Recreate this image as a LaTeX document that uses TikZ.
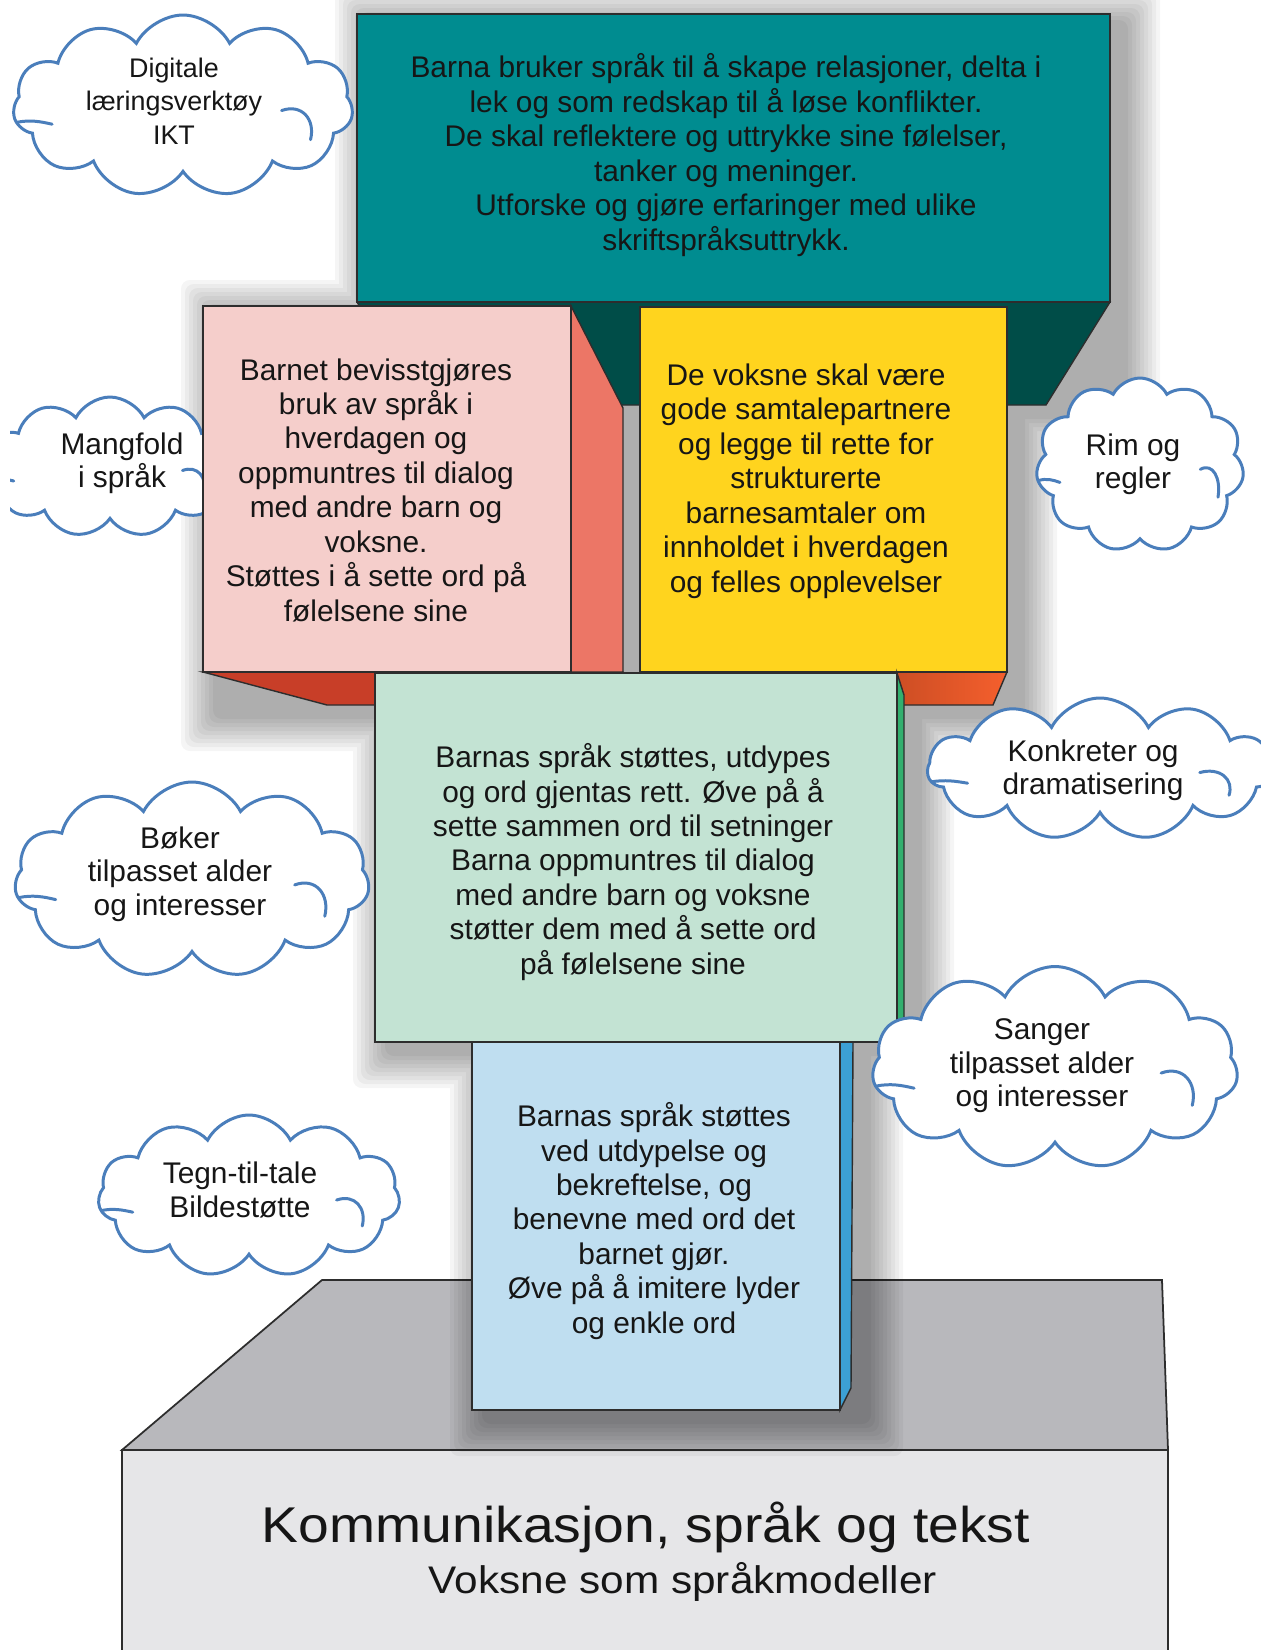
\documentclass[tikz,border=0pt]{standalone}
\usepackage{fontspec}
\setmainfont{Liberation Sans}
\newfontfamily\widefont[FakeStretch=1.1]{Liberation Sans}
\usetikzlibrary{shapes.symbols}
\definecolor{tealF}{RGB}{0,140,144}
\definecolor{tealD}{RGB}{0,77,72}
\definecolor{pinkF}{RGB}{245,206,203}
\definecolor{salmonS}{RGB}{236,118,102}
\definecolor{redU}{RGB}{200,62,40}
\definecolor{yellowF}{RGB}{255,212,30}
\definecolor{orangeL}{RGB}{205,78,36}
\definecolor{orangeR}{RGB}{245,95,45}
\definecolor{mintF}{RGB}{195,227,211}
\definecolor{greenS}{RGB}{50,175,110}
\definecolor{blueF}{RGB}{191,222,240}
\definecolor{blueS}{RGB}{60,160,212}
\definecolor{baseTop}{RGB}{184,184,188}
\definecolor{baseFront}{RGB}{230,230,232}
\definecolor{edge}{RGB}{45,45,45}
\definecolor{txt}{RGB}{22,22,22}
\definecolor{cloudblue}{RGB}{74,126,187}
\newcommand{\cloudarcs}[4]{%
  \draw[cloudline] ({#1-0.98*#3},{#2+0.18*#4}) .. controls ({#1-0.9*#3},{#2+0.15*#4}) and ({#1-0.84*#3},{#2+0.17*#4}) .. ({#1-0.77*#3},{#2+0.20*#4});
  \draw[cloudline] ({#1+0.58*#3},{#2+0.05*#4}) .. controls ({#1+0.70*#3},{#2-0.03*#4}) and ({#1+0.78*#3},{#2+0.15*#4}) .. ({#1+0.75*#3},{#2+0.37*#4});
}
\begin{document}
\begin{tikzpicture}[x=0.02cm,y=-0.02cm,
  faceline/.style={draw=edge, line width=0.8pt},
  boxtext/.style={align=center, font=\fontsize{17}{19.6}\selectfont, text=txt, inner sep=0pt},
  cloudsty/.style={cloud, cloud puffs=11, cloud puff arc=125, cloud ignores aspect, draw=cloudblue, line width=1.7pt, fill=white, inner sep=0pt},
  cloudtext/.style={align=center, font=\fontsize{17}{19}\selectfont, text=txt, inner sep=0pt},
  cloudline/.style={draw=cloudblue, line width=1.7pt, line cap=round}]
\useasboundingbox (0,0) rectangle (1261,1650);
\clip (0,0) rectangle (1261,1650);
\fill[white] (0,0) rectangle (1261,1650);

% base block
\filldraw[fill=baseFront, faceline, line width=1pt] (122,1450) -- (1168,1450) -- (1168,1680) -- (122,1680) -- cycle;
\filldraw[fill=baseTop, faceline, line width=1pt] (322,1280) -- (1162,1280) -- (1168,1450) -- (122,1450) -- cycle;

% soft shadows
\foreach \k in {1,...,9}{
  \fill[black, opacity=0.04, rounded corners=5pt]
    ({371-4*\k},{24-4*\k}) rectangle ({1124+4*\k},{415+4*\k})
    ({217-4*\k},{316-4*\k}) rectangle ({637+4*\k},{715+4*\k})
    ({654-4*\k},{317-4*\k}) rectangle ({1021+4*\k},{715+4*\k})
    ({389-4*\k},{683-4*\k}) rectangle ({918+4*\k},{1052+4*\k})
    ({486-4*\k},{1052-4*\k}) rectangle ({867+4*\k},{1420+4*\k});
}

% cloud behind pink block
\begin{scope}
  \clip (10,0) rectangle (1261,1650);
  \node[cloudsty, minimum width=5cm, minimum height=2.8cm] (c2) at (110,467) {};
  \cloudarcs{110}{467}{125}{70}
\end{scope}
\node[cloudtext] (t2) at (122,463) {Mangfold\\i språk};

% top teal block
\filldraw[fill=tealD, faceline] (357,302) -- (1110,302) -- (1046,405) -- (420,405) -- cycle;
\filldraw[fill=tealF, faceline] (357,14) rectangle (1110,302);

% pink block
\filldraw[fill=redU, faceline] (203,672) -- (623,672) -- (623,705) -- (327,705) -- cycle;
\filldraw[fill=salmonS, faceline] (571,306) -- (623,408) -- (623,672) -- (571,672) -- cycle;
\filldraw[fill=pinkF, faceline] (203,306) rectangle (571,672);

% yellow block
\shade[left color=orangeL, right color=orangeR] (897,672) -- (1007,672) -- (993,705) -- (897,705) -- cycle;
\draw[faceline] (897,672) -- (1007,672) -- (993,705) -- (897,705);
\filldraw[fill=yellowF, faceline] (640,307) rectangle (1007,672);

% blue block
\filldraw[fill=blueS, faceline] (840,1042) -- (853,1042) -- (851,1388) -- (840,1410) -- cycle;
\filldraw[fill=blueF, faceline] (472,1042) rectangle (840,1410);

% mint block
\filldraw[fill=greenS, faceline] (897,673) -- (904,695) -- (904,1030) -- (897,1042) -- cycle;
\filldraw[fill=mintF, faceline] (375,673) rectangle (897,1042);

% box texts
\node[boxtext] (ttop) at (726,155) {Barna bruker språk til å skape relasjoner, delta i\\lek og som redskap til å løse konflikter.\\De skal reflektere og uttrykke sine følelser,\\tanker og meninger.\\Utforske og gjøre erfaringer med ulike\\skriftspråksuttrykk.};
\node[boxtext] (tpink) at (376,490) {Barnet bevisstgjøres\\bruk av språk i\\hverdagen og\\oppmuntres til dialog\\med andre barn og\\voksne.\\Støttes i å sette ord på\\følelsene sine};
\node[boxtext] (tyellow) at (806,481) {De voksne skal være\\gode samtalepartnere\\og legge til rette for\\strukturerte\\barnesamtaler om\\innholdet i hverdagen\\og felles opplevelser};
\node[boxtext] (tmint) at (633,862) {Barnas språk støttes, utdypes\\og ord gjentas rett. Øve på å\\sette sammen ord til setninger\\Barna oppmuntres til dialog\\med andre barn og voksne\\støtter dem med å sette ord\\på følelsene sine};
\node[boxtext] (tblue) at (654,1221) {Barnas språk støttes\\ved utdypelse og\\bekreftelse, og\\benevne med ord det\\barnet gjør.\\Øve på å imitere lyder\\og enkle ord};

% base texts
\node[anchor=base, inner sep=0pt, text=txt, font=\widefont\fontsize{28.6}{34}\selectfont] (btitle) at (646,1542) {Kommunikasjon, språk og tekst};
\node[anchor=base, inner sep=0pt, text=txt, font=\widefont\fontsize{21.9}{26}\selectfont] (bsub) at (683,1593) {Voksne som språkmodeller};

% clouds
\node[cloudsty, minimum width=6.8cm, minimum height=3.64cm] (c1) at (183,106) {};
\cloudarcs{183}{106}{170}{91}
\node[cloudtext, font=\fontsize{15.3}{19}\selectfont] (t1) at (174,101) {Digitale\\læringsverktøy\\IKT};

\node[cloudsty, minimum width=4.16cm, minimum height=3.48cm] (c3) at (1140,465) {};
\cloudarcs{1140}{465}{104}{87}
\node[cloudtext] (t3) at (1133,464) {Rim og\\regler};

\node[cloudsty, minimum width=6.9cm, minimum height=2.84cm] (c4) at (1100,769) {};
\cloudarcs{1100}{769}{172}{71}
\node[cloudtext] (t4) at (1093,770) {Konkreter og\\dramatisering};

\node[cloudsty, minimum width=7.1cm, minimum height=3.92cm] (c5) at (192,880) {};
\cloudarcs{192}{880}{177}{98}
\node[cloudtext] (t5) at (180,874) {Bøker\\tilpasset alder\\og interesser};

\node[cloudsty, minimum width=7.32cm, minimum height=4.06cm] (c6) at (1055,1068) {};
\cloudarcs{1055}{1068}{183}{101}
\node[cloudtext] (t6) at (1042,1066) {Sanger\\tilpasset alder\\og interesser};

\node[cloudsty, minimum width=6.04cm, minimum height=3.24cm] (c7) at (249,1196) {};
\cloudarcs{249}{1196}{151}{81}
\node[cloudtext] (t7) at (240,1190) {Tegn-til-tale\\Bildestøtte};
\end{tikzpicture}
\end{document}
